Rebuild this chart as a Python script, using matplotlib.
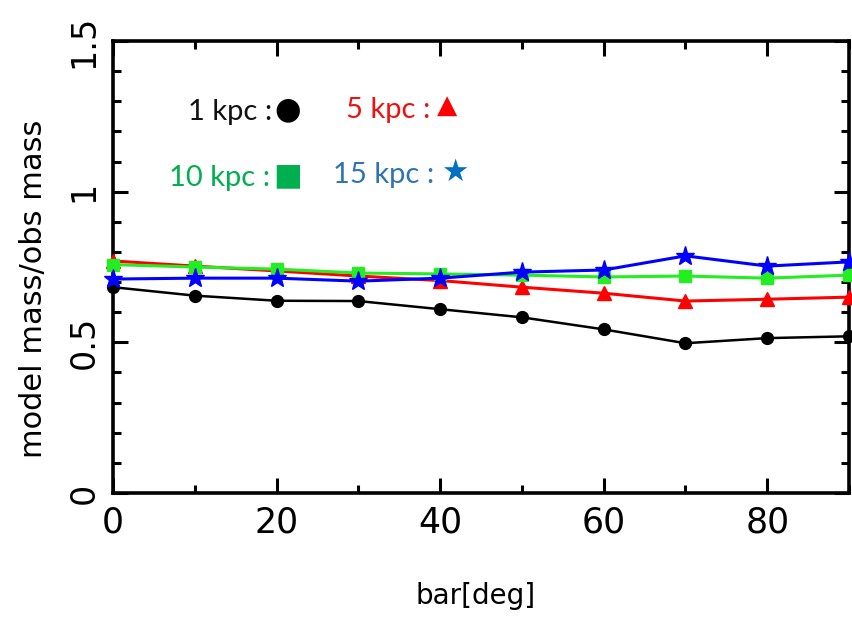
import matplotlib
matplotlib.use('Agg')
import matplotlib.pyplot as plt
from matplotlib.ticker import MultipleLocator

# bar angle [deg]
bar_deg = [0, 10, 20, 30, 40, 50, 60, 70, 80, 90]

# model mass / obs mass
ratio_1kpc = [0.683, 0.655, 0.638, 0.637, 0.610, 0.583, 0.543, 0.497, 0.514, 0.520]
ratio_5kpc = [0.770, 0.753, 0.737, 0.720, 0.705, 0.683, 0.663, 0.637, 0.643, 0.650]
ratio_10kpc = [0.758, 0.750, 0.743, 0.730, 0.727, 0.723, 0.717, 0.720, 0.713, 0.723]
ratio_15kpc = [0.710, 0.713, 0.713, 0.703, 0.713, 0.733, 0.740, 0.787, 0.753, 0.767]

xticks = [0, 20, 40, 60, 80]
yticks = [0, 0.5, 1, 1.5]
ytick_labels = ['0', '0.5', '1', '1.5']

fig = plt.figure(figsize=(8.52, 6.19), dpi=100)
ax = fig.add_axes([113 / 852, 1 - 493 / 619, 736 / 852, 452 / 619])

ax.plot(bar_deg, ratio_1kpc, color='black', lw=1.8, marker='o', ms=8.5, clip_on=False, zorder=3)
ax.plot(bar_deg, ratio_5kpc, color='#ff0000', lw=2.2, marker='^', ms=9.5, clip_on=False, zorder=4)
ax.plot(bar_deg, ratio_10kpc, color='#22ee22', lw=2.2, marker='s', ms=8, clip_on=False, zorder=5)
ax.plot(bar_deg, ratio_15kpc, color='#0000ff', lw=2.2, marker='*', ms=14, clip_on=False, zorder=6)

ax.set_xlim(0, 90)
ax.set_ylim(0, 1.5)
ax.set_xticks(xticks)
ax.xaxis.set_minor_locator(MultipleLocator(10))
ax.set_yticks(yticks)
ax.set_yticklabels(ytick_labels)
ax.yaxis.set_minor_locator(MultipleLocator(0.1))

ax.tick_params(which='both', direction='in', top=True, right=True, width=2.2, colors='black')
ax.tick_params(which='major', length=11)
ax.tick_params(which='minor', length=6)
ax.tick_params(axis='x', labelsize=25, pad=9)
ax.tick_params(axis='y', labelsize=24, labelrotation=90, pad=9)
for lab in ax.get_yticklabels():
    lab.set_verticalalignment('center')
for sp in ax.spines.values():
    sp.set_linewidth(2.6)

ax.set_xlabel('bar[deg]', fontsize=20)
ax.xaxis.set_label_coords(0.492, -0.198)
ax.set_ylabel('model mass/obs mass', fontsize=22)
ax.yaxis.set_label_coords(-0.088, 0.451)

# hand-made key, as in the original
key_font = ['Lato', 'DejaVu Sans']
fig.text(272 / 852, 1 - 112 / 619, '1 kpc :', color='#111111', fontsize=21,
         family=key_font, ha='right', va='center')
fig.text(430 / 852, 1 - 110 / 619, '5 kpc :', color='#ee1111', fontsize=21,
         family=key_font, ha='right', va='center')
fig.text(270 / 852, 1 - 178 / 619, '10 kpc :', color='#00b050', fontsize=21,
         family=key_font, ha='right', va='center')
fig.text(434 / 852, 1 - 175 / 619, '15 kpc :', color='#2e74b5', fontsize=21,
         family=key_font, ha='right', va='center')
fig.text(288 / 852, 1 - 110 / 619, '\u25cf', color='black', fontsize=22,
         family='DejaVu Sans', ha='center', va='center')
fig.text(447 / 852, 1 - 106 / 619, '\u25b2', color='#ff0000', fontsize=19,
         family='DejaVu Sans', ha='center', va='center')
fig.text(288 / 852, 1 - 176 / 619, '\u25a0', color='#00b050', fontsize=22,
         family='DejaVu Sans', ha='center', va='center')
fig.text(455 / 852, 1 - 172 / 619, '\u2605', color='#0070c0', fontsize=22,
         family='DejaVu Sans', ha='center', va='center')

fig.savefig('out.png', dpi=100)
